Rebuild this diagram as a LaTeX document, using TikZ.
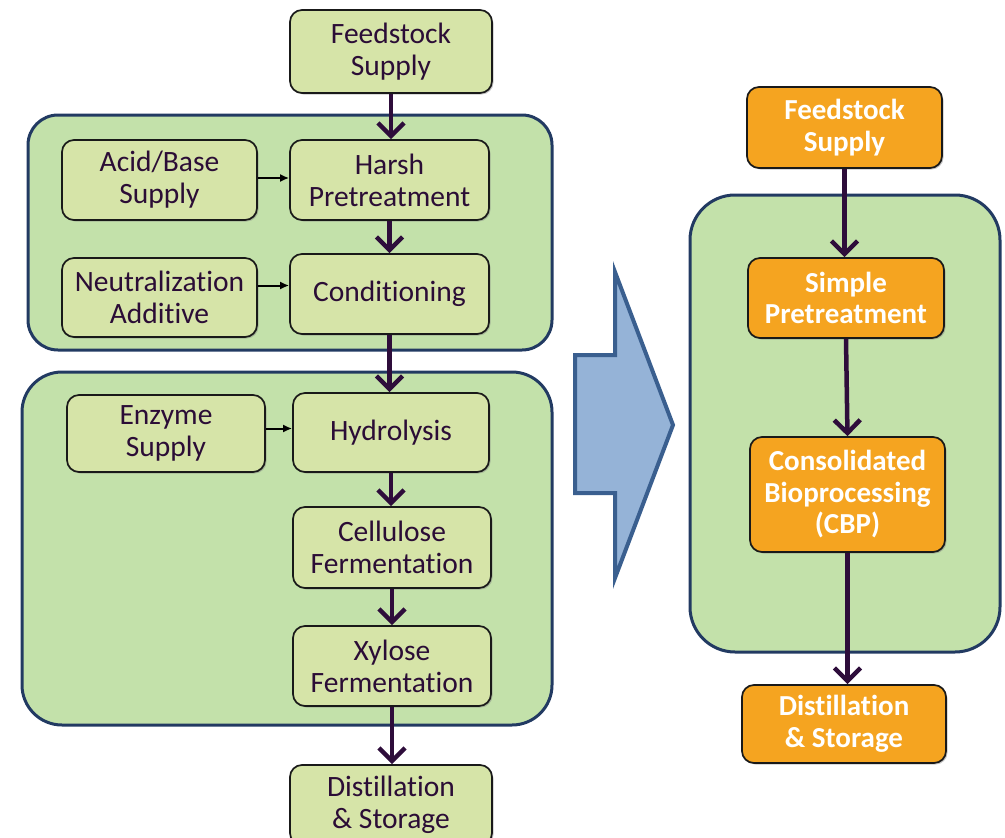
\documentclass[tikz,border=0pt]{standalone}
\usepackage{fontspec}
\setmainfont{Carlito}[Ligatures=NoCommon]
\usetikzlibrary{arrows.meta,shadows}
\definecolor{nodegreen}{RGB}{214,228,168}
\definecolor{boxgreen}{RGB}{195,225,170}
\definecolor{navy}{RGB}{34,58,98}
\definecolor{txt}{RGB}{43,13,54}
\definecolor{arr}{RGB}{46,13,59}
\definecolor{orng}{RGB}{245,164,32}
\definecolor{bigfill}{RGB}{149,179,215}
\definecolor{bigdraw}{RGB}{58,95,143}
\tikzset{
  procbox/.style={rounded corners=12pt, draw=black!90, line width=1.7pt, fill=nodegreen,
    text=txt, align=center, inner sep=0pt,
    font=\fontsize{29.5}{32}\selectfont,
    drop shadow={shadow xshift=1.5pt, shadow yshift=-1.5pt, opacity=0.45}},
  orangebox/.style={procbox, fill=orng, text=white, font=\fontsize{29}{31.5}\selectfont\bfseries},
  groupbox/.style={draw=navy, line width=3pt, fill=boxgreen},
  bigarrow/.style={draw=arr, line width=4.5pt, -{Straight Barb[length=13pt,width=26pt,line width=4.5pt]}},
  smallarrow/.style={draw=black, line width=2pt, -{Latex[length=9pt,width=8pt]}},
}
\begin{document}
\begin{tikzpicture}[x=1pt,y=-1pt]
\useasboundingbox (0,0) rectangle (1005,838);
% containers
\draw[groupbox, rounded corners=30pt] (28,115) rectangle (552,350);
\draw[groupbox, rounded corners=40pt] (22,372) rectangle (552,725);
\draw[groupbox, rounded corners=45pt] (690,195) rectangle (1000,652);
% big block arrow
\draw[fill=bigfill, draw=bigdraw, line width=4pt, line join=miter]
  (575,355) -- (615,355) -- (615,272) -- (673,425) -- (615,578) -- (615,493) -- (575,493) -- cycle;
% left nodes
\node[procbox, minimum width=202pt, minimum height=83pt] (feedL) at (391,51.5) {Feedstock\\Supply};
\node[procbox, minimum width=195pt, minimum height=80pt] (acid) at (159.5,180) {Acid/Base\\Supply};
\node[procbox, minimum width=199pt, minimum height=80pt] (harsh) at (389.5,180) {Harsh\\Pretreatment};
\node[procbox, minimum width=195pt, minimum height=79pt] (neut) at (159.5,297.5) {Neutralization\\Additive};
\node[procbox, minimum width=199pt, minimum height=80pt] (cond) at (389.5,294) {Conditioning};
\node[procbox, minimum width=198pt, minimum height=77pt] (enz) at (166,433.5) {Enzyme\\Supply};
\node[procbox, minimum width=196pt, minimum height=79pt] (hyd) at (391,432.5) {Hydrolysis};
\node[procbox, minimum width=198pt, minimum height=81pt] (cell) at (392,547.5) {Cellulose\\Fermentation};
\node[procbox, minimum width=198pt, minimum height=80pt] (xyl) at (392,666) {Xylose\\Fermentation};
\node[procbox, minimum width=202pt, minimum height=80pt] (distL) at (391,805) {Distillation\\\& Storage};
% right nodes
\node[orangebox, minimum width=195pt, minimum height=81pt] (feedR) at (844.5,127.5) {Feedstock\\Supply};
\node[orangebox, minimum width=196pt, minimum height=80pt] (simp) at (846,298) {Simple\\Pretreatment};
\node[orangebox, minimum width=195pt, minimum height=115pt] (cbp) at (847.5,494.5) {Consolidated\\Bioprocessing\\(CBP)};
\node[orangebox, minimum width=204pt, minimum height=78pt] (distR) at (844,724) {Distillation\\\& Storage};
% left arrows
\draw[bigarrow] (feedL.south) -- (feedL.south |- harsh.north);
\draw[bigarrow] (harsh.south) -- (cond.north);
\draw[bigarrow] (cond.south) -- (cond.south |- hyd.north);
\draw[bigarrow] (hyd.south) -- (hyd.south |- cell.north);
\draw[bigarrow] (cell.south) -- (xyl.north);
\draw[bigarrow] (xyl.south) -- (xyl.south |- distL.north);
\draw[smallarrow] ([yshift=2pt]acid.east) -- ([yshift=2pt]acid.east -| harsh.west);
\draw[smallarrow] ([yshift=12pt]neut.east) -- ([yshift=12pt]neut.east -| cond.west);
\draw[smallarrow] ([yshift=5pt]enz.east) -- ([yshift=5pt]enz.east -| hyd.west);
% right arrows
\draw[bigarrow] (feedR.south) -- (feedR.south |- simp.north);
\draw[bigarrow] (simp.south) -- (cbp.north);
\draw[bigarrow] (cbp.south) -- (cbp.south |- distR.north);
\end{tikzpicture}
\end{document}
